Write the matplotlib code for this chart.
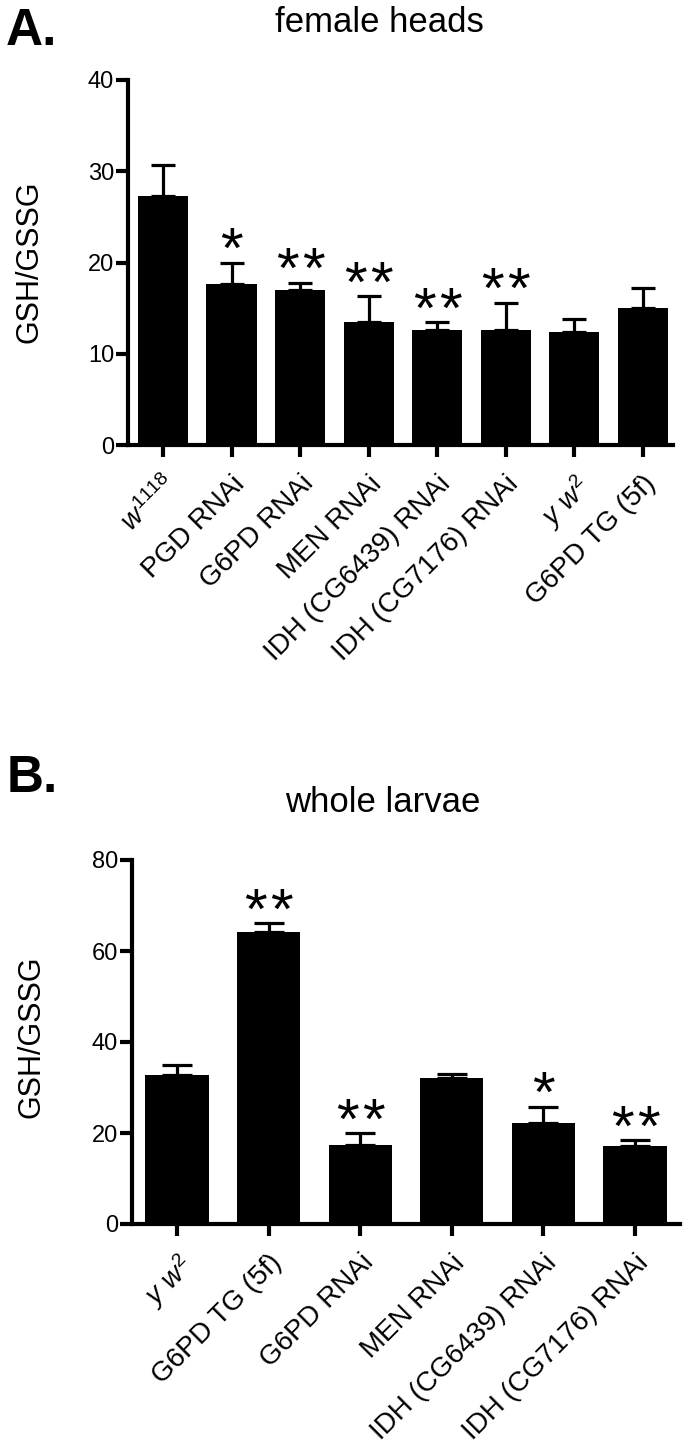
import matplotlib
matplotlib.use("Agg")
import matplotlib.pyplot as plt

plt.rcParams['font.family'] = ['Liberation Sans', 'DejaVu Sans']
plt.rcParams['mathtext.fontset'] = 'custom'
plt.rcParams['mathtext.rm'] = 'Liberation Sans'
plt.rcParams['mathtext.it'] = 'Liberation Sans:italic'

# panel A data: female heads
heads_labels = [r'$\mathit{w}^{\mathit{1118}}$', 'PGD RNAi', 'G6PD RNAi', 'MEN RNAi',
                'IDH (CG6439) RNAi', 'IDH (CG7176) RNAi', r'$\mathit{y\ w}^{2}$', 'G6PD TG (5f)']
heads_mean = [27.3, 17.6, 17.0, 13.5, 12.6, 12.6, 12.4, 15.0]
heads_err = [3.4, 2.4, 0.8, 2.8, 0.9, 3.0, 1.4, 2.2]
heads_sig = ['', '*', '**', '**', '**', '**', '', '']

# panel B data: whole larvae
larvae_labels = [r'$\mathit{y\ w}^{2}$', 'G6PD TG (5f)', 'G6PD RNAi', 'MEN RNAi',
                 'IDH (CG6439) RNAi', 'IDH (CG7176) RNAi']
larvae_mean = [32.7, 64.2, 17.4, 32.1, 22.2, 17.2]
larvae_err = [2.3, 2.0, 2.6, 0.9, 3.6, 1.3]
larvae_sig = ['', '**', '**', '', '*', '**']

W, H = 683, 1445
fig = plt.figure(figsize=(W / 100, H / 100), dpi=100)


def draw_panel(ax, labels, means, errs, sigs, ymax, step, xpad, width, cap):
    x = list(range(len(labels)))
    ax.bar(x, means, width=width, color='black', zorder=2)
    ax.errorbar(x, means, yerr=[[0] * len(errs), errs], fmt='none', ecolor='black',
                elinewidth=2.3, capsize=cap, capthick=2.3, zorder=1)
    # significance stars, one text per star so they get a small gap
    for xi, m, e, s in zip(x, means, errs, sigs):
        for i in range(len(s)):
            dx = (i - (len(s) - 1) / 2) * 18.7
            ax.annotate('*', (xi, m + e), xytext=(dx, -4), textcoords='offset points',
                        ha='center', va='baseline', fontsize=42)
    ax.set_xlim(-xpad[0], len(labels) - 1 + xpad[1])
    ax.set_ylim(0, ymax)
    ax.set_yticks(range(0, ymax + 1, step))
    ax.set_xticks(x)
    ax.set_xticklabels(labels, rotation=45, ha='right', rotation_mode='anchor', fontsize=20)
    for sp in ['top', 'right']:
        ax.spines[sp].set_visible(False)
    for sp in ['left', 'bottom']:
        ax.spines[sp].set_linewidth(3)
        ax.spines[sp].set_zorder(3)
    ax.tick_params(axis='y', length=9, width=3, labelsize=17, pad=1)
    ax.tick_params(axis='x', length=8.5, width=3, pad=10)


ax1 = fig.add_axes([128 / W, 1 - 445 / H, 545 / W, 365 / H])
draw_panel(ax1, heads_labels, heads_mean, heads_err, heads_sig, 40, 10,
           (0.51, 0.44), 0.73, 8.3)
ax2 = fig.add_axes([132 / W, 1 - 1224 / H, 548 / W, 364 / H])
draw_panel(ax2, larvae_labels, larvae_mean, larvae_err, larvae_sig, 80, 20,
           (0.49, 0.49), 0.69, 11)

fig.text(30 / W, 1 - 262 / H, 'GSH/GSSG', rotation=90, ha='center', va='center', fontsize=22)
fig.text(32 / W, 1 - 1037 / H, 'GSH/GSSG', rotation=90, ha='center', va='center', fontsize=22)

fig.text(379 / W, 1 - 32 / H, 'female heads', ha='center', va='baseline', fontsize=25)
fig.text(383 / W, 1 - 812 / H, 'whole larvae', ha='center', va='baseline', fontsize=25)
fig.text(6 / W, 1 - 45 / H, 'A.', ha='left', va='baseline', fontsize=37, fontweight='bold')
fig.text(7 / W, 1 - 792 / H, 'B.', ha='left', va='baseline', fontsize=37, fontweight='bold')

fig.savefig('out.png', dpi=100)
